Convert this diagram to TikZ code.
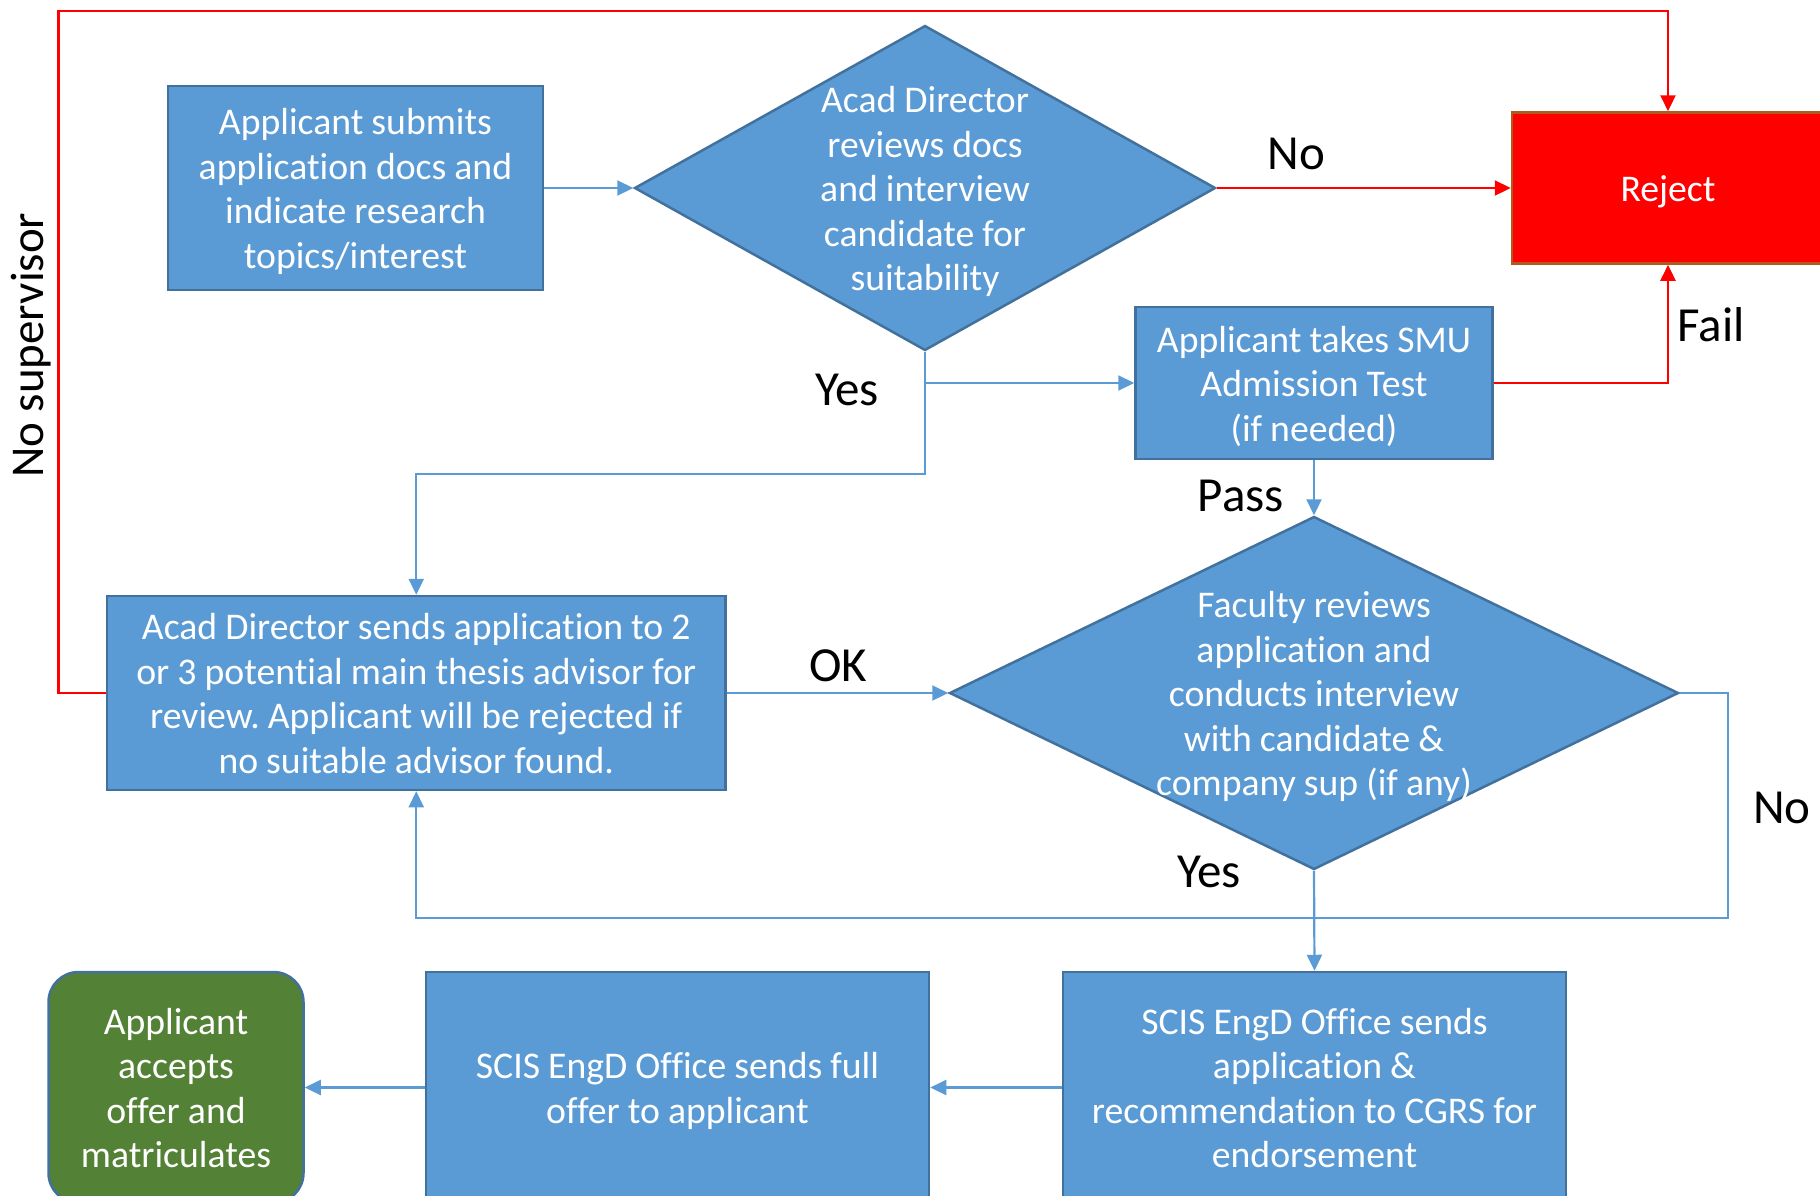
\documentclass[tikz,border=0pt]{standalone}
\usepackage{fontspec}
\setmainfont{Carlito}[WordSpace=0.95,Ligatures=NoCommon]
\usetikzlibrary{arrows.meta,shapes.geometric}
\definecolor{boxblue}{HTML}{5B9BD5}
\definecolor{borderblue}{HTML}{41719C}
\definecolor{rejred}{HTML}{FF0000}
\definecolor{rejborder}{HTML}{AE5A21}
\definecolor{okgreen}{HTML}{538135}
\frenchspacing
\newcommand\zbox[1]{\raisebox{-22pt}{\smash{\makebox[0pt]{\begin{tabular}{@{}c@{}}#1\end{tabular}}}}}
\tikzset{
  boxfont/.style={font=\fontsize{37.7}{44.5}\selectfont},
  box/.style={draw=borderblue, line width=2.5pt, fill=boxblue, text=white, inner sep=0pt, boxfont},
  decision/.style={diamond, draw=borderblue, line width=2.5pt, fill=boxblue, text=white, inner sep=0pt, boxfont},
  flow/.style={draw=boxblue, line width=2.2pt, -{Triangle[length=16pt,width=15pt]}},
  rflow/.style={draw=rejred, line width=2.2pt, -{Triangle[length=16pt,width=15pt]}},
  lbl/.style={font=\fontsize{49}{58}\selectfont, inner sep=0pt},
}
\begin{document}
\begin{tikzpicture}[x=1pt,y=-1pt]
\useasboundingbox (0,0) rectangle (1820,1195);

% nodes
\node[box, minimum width=375pt, minimum height=204pt] (submit) at (355.5,188)
  {\zbox{Applicant submits\\application docs and\\indicate research\\topics/interest}};
\node[decision, minimum width=581pt, minimum height=325pt] (review) at (925,188)
  {\zbox{Acad Director\\reviews docs\\and interview\\candidate for\\suitability}};
\node[draw=rejborder, fill=rejred, line width=2.5pt, minimum width=312pt, minimum height=151pt,
  text=white, inner sep=0pt, boxfont] (reject) at (1668,188) {\zbox{Reject}};
\node[box, minimum width=357pt, minimum height=152pt] (test) at (1314,383)
  {\zbox{Applicant takes SMU\\Admission Test\\(if needed)}};
\node[box, minimum width=618.5pt, minimum height=194pt] (advisor) at (416.25,693)
  {\zbox{Acad Director sends application to 2\\or 3 potential main thesis advisor for\\review. Applicant will be rejected if\\no suitable advisor found.}};
\node[decision, minimum width=729pt, minimum height=353pt] (faculty) at (1314,693)
  {\zbox{Faculty reviews\\application and\\conducts interview\\with candidate \&\\company sup (if any)}};
\node[box, minimum width=503pt, minimum height=231pt] (endorse) at (1314.5,1087.5)
  {\zbox{SCIS EngD Office sends\\application \&\\recommendation to CGRS for\\endorsement}};
\node[box, minimum width=503pt, minimum height=231pt] (offer) at (677.5,1087.5)
  {\zbox{SCIS EngD Office sends full\\offer to applicant}};
\node[box, fill=okgreen, rounded corners=30pt, minimum width=255pt, minimum height=231pt] (accept) at (176,1087.5)
  {\zbox{Applicant\\accepts\\offer and\\matriculates}};

% labels
\node[lbl, rotate=90, font=\fontsize{47}{56}\selectfont] (lnosup) at (31,345) {No supervisor};
\node[lbl] (lno1) at (1296.5,154) {No};
\node[lbl] (lfail) at (1711,325) {Fail};
\node[lbl] (lyes1) at (847,390) {Yes};
\node[lbl] (lpass) at (1241,496) {Pass};
\node[lbl] (lok) at (838,666) {OK};
\node[lbl] (lno2) at (1782,808) {No};
\node[lbl] (lyes2) at (1209,872) {Yes};

% bend points
\coordinate (nstop) at (58.5,11);
\coordinate (yesbend) at (925,474);
\coordinate (nobend) at (1728,918);

% connectors
\draw[flow] (submit.east) -- (review.west);
\draw[rflow] (review.east) -- (reject.west);
\draw[rflow] (test.east) -| (reject.south);
\draw[rflow] (advisor.west) -| (nstop) -| (reject.north);
\draw[flow] (review.south) |- (test.west);
\draw[flow] (review.south) -- (yesbend) -| (advisor.north);
\draw[flow] (test.south) -- (faculty.north);
\draw[flow] (advisor.east) -- (faculty.west);
\draw[flow] (faculty.east) -| (nobend) -| (advisor.south);
\draw[flow] (faculty.south) -- (endorse.north);
\draw[flow] (endorse.west) -- (offer.east);
\draw[flow] (offer.west) -- (accept.east);
\end{tikzpicture}
\end{document}
